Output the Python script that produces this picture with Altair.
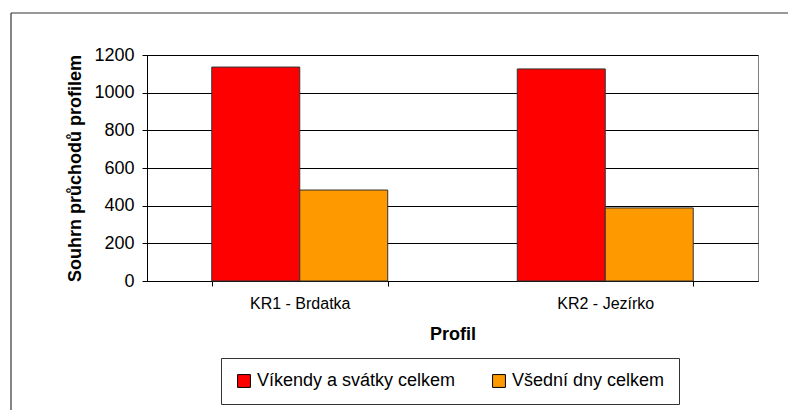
import altair as alt
import pandas as pd

profiles = ["KR1 - Brdatka", "KR2 - Jezírko"]
series = ["Víkendy a svátky celkem", "Všední dny celkem"]
weekend_values = [1136, 1126]
weekday_values = [483, 388]
colors = ["#FF0000", "#FF9900"]
y_ticks = [0, 200, 400, 600, 800, 1000, 1200]

rows = []
for p, w, d in zip(profiles, weekend_values, weekday_values):
    rows.append({"Profil": p, "Typ": series[0], "Hodnota": w})
    rows.append({"Profil": p, "Typ": series[1], "Hodnota": d})
df = pd.DataFrame(rows)

FONT = "Liberation Sans"

bars = alt.Chart(df).mark_bar(stroke="#333333", strokeWidth=1).encode(
    x=alt.X(
        "Profil:N",
        sort=profiles,
        scale=alt.Scale(paddingInner=0.424, paddingOuter=0.212),
        axis=alt.Axis(
            title="Profil",
            labelAngle=0,
            tickBand="extent",
            domainColor="#000000",
            tickColor="#000000",
            tickSize=5,
            labelFontSize=16,
            labelPadding=9,
            labelColor="#000000",
            titleFontSize=18,
            titleFontWeight="bold",
            titlePadding=14,
            titleColor="#000000",
            grid=False,
        ),
    ),
    xOffset=alt.XOffset("Typ:N", sort=series, scale=alt.Scale(paddingInner=0, paddingOuter=0)),
    y=alt.Y(
        "Hodnota:Q",
        scale=alt.Scale(domain=[0, 1200], nice=False),
        axis=alt.Axis(
            title="Souhrn průchodů profilem",
            values=y_ticks,
            format="d",
            domainColor="#000000",
            tickColor="#000000",
            tickSize=5,
            labelFontSize=18,
            labelPadding=8,
            labelColor="#000000",
            titleFontSize=18,
            titleFontWeight="bold",
            titlePadding=9,
            titleColor="#000000",
            grid=True,
            gridColor="#000000",
            gridWidth=1,
            gridOpacity=1,
        ),
    ),
    color=alt.Color(
        "Typ:N",
        sort=series,
        scale=alt.Scale(domain=series, range=colors),
        legend=alt.Legend(
            title=None,
            orient="none",
            legendX=74,
            legendY=303,
            direction="horizontal",
            strokeColor="#333333",
            padding=14,
            symbolType="square",
            symbolSize=165,
            symbolStrokeColor="#000000",
            symbolStrokeWidth=1,
            symbolOpacity=1,
            labelFontSize=18,
            labelOffset=4,
            labelColor="#000000",
            columnPadding=34,
            labelLimit=400,
        ),
    ),
)

frame_data = alt.Data(values=[{"a": 1}])
frame_top = alt.Chart(frame_data).mark_rule(color="#333333", strokeWidth=1.2).encode(
    x=alt.value(-136), x2=alt.value(660), y=alt.value(-42)
)
frame_left = alt.Chart(frame_data).mark_rule(color="#333333", strokeWidth=1.2).encode(
    x=alt.value(-136), y=alt.value(-42), y2=alt.value(360)
)

chart = alt.layer(bars, frame_top, frame_left).properties(
    width=611,
    height=226,
    padding={"left": 139, "top": 47, "right": 30, "bottom": 129},
    autosize=alt.AutoSizeParams(type="none"),
    background="#FFFFFF",
).configure(
    font=FONT,
).configure_view(
    stroke="#808080",
    strokeWidth=1,
)

chart.save("out.html", embed_options={"renderer": "svg", "actions": False})
